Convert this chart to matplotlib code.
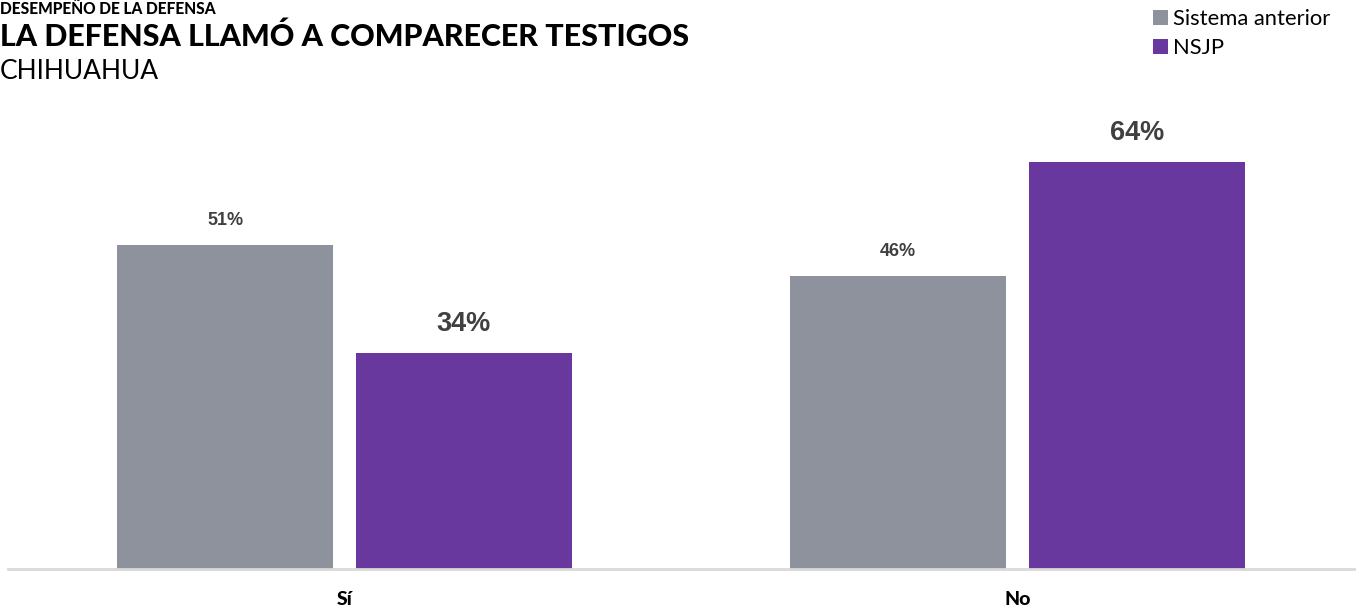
import matplotlib
matplotlib.use("Agg")
import matplotlib.pyplot as plt
import numpy as np

categories = ["Sí", "No"]
series_names = ["Sistema anterior", "NSJP"]
anterior = [51, 46]
nsjp = [34, 64]

colors = {"Sistema anterior": "#8E929D", "NSJP": "#68389E"}
label_color = "#404040"

W, H = 1358, 609
fig = plt.figure(figsize=(W / 100, H / 100), dpi=100)

# axes placed in pixel terms
left_px, right_px, bottom_px, top_px = 8, 1354, 569, 100
ax = fig.add_axes([left_px / W, (H - bottom_px) / H,
                   (right_px - left_px) / W, (bottom_px - top_px) / H])

x = np.arange(len(categories))
width = 0.321
offset = 0.1775

b1 = ax.bar(x - offset, anterior, width, color=colors["Sistema anterior"],
            label="Sistema anterior")
b2 = ax.bar(x + offset, nsjp, width, color=colors["NSJP"], label="NSJP")

for rect, v in zip(b1, anterior):
    ax.annotate(f"{v}%", (rect.get_x() + rect.get_width() / 2, v),
                xytext=(0, 14.5), textcoords="offset points",
                ha="center", va="baseline", fontsize=13,
                fontweight="bold", family="Liberation Sans", color=label_color)
for rect, v in zip(b2, nsjp):
    ax.annotate(f"{v}%", (rect.get_x() + rect.get_width() / 2, v),
                xytext=(0, 16), textcoords="offset points",
                ha="center", va="baseline", fontsize=19.5,
                fontweight="bold", family="Liberation Sans", color=label_color)

ax.set_xlim(-0.5, 1.5)
ax.set_ylim(0, 469 / 6.36)
ax.set_yticks([])
ax.set_xticks(x)
ax.set_xticklabels(categories, fontsize=14, fontweight="black", family="Lato")
ax.tick_params(axis="x", length=0, pad=16)
for s in ["top", "right", "left"]:
    ax.spines[s].set_visible(False)
ax.spines["bottom"].set_color("#D9D9D9")
ax.spines["bottom"].set_linewidth(2)

# headings
fig.text(0 / W, 1 - 14 / H, "DESEMPEÑO DE LA DEFENSA", fontsize=11.2,
         fontweight="black", family="Lato", color="black", va="baseline")
fig.text(0 / W, 1 - 46 / H, "LA DEFENSA LLAMÓ A COMPARECER TESTIGOS", fontsize=21.9,
         fontweight="black", family="Lato", color="black", va="baseline")
fig.text(0 / W, 1 - 79 / H, "CHIHUAHUA", fontsize=19,
         fontweight="normal", family="Lato", color="black", va="baseline")

fig.legend(handles=[b1, b2], labels=series_names, loc="upper left",
           bbox_to_anchor=(1153 / W, 1 - 9 / H), frameon=False,
           handlelength=0.68, handleheight=0.68, handletextpad=0.22,
           labelspacing=0.4, borderpad=0, borderaxespad=0,
           prop={"family": "Lato", "size": 15.8})

fig.savefig("out.png", dpi=100)
